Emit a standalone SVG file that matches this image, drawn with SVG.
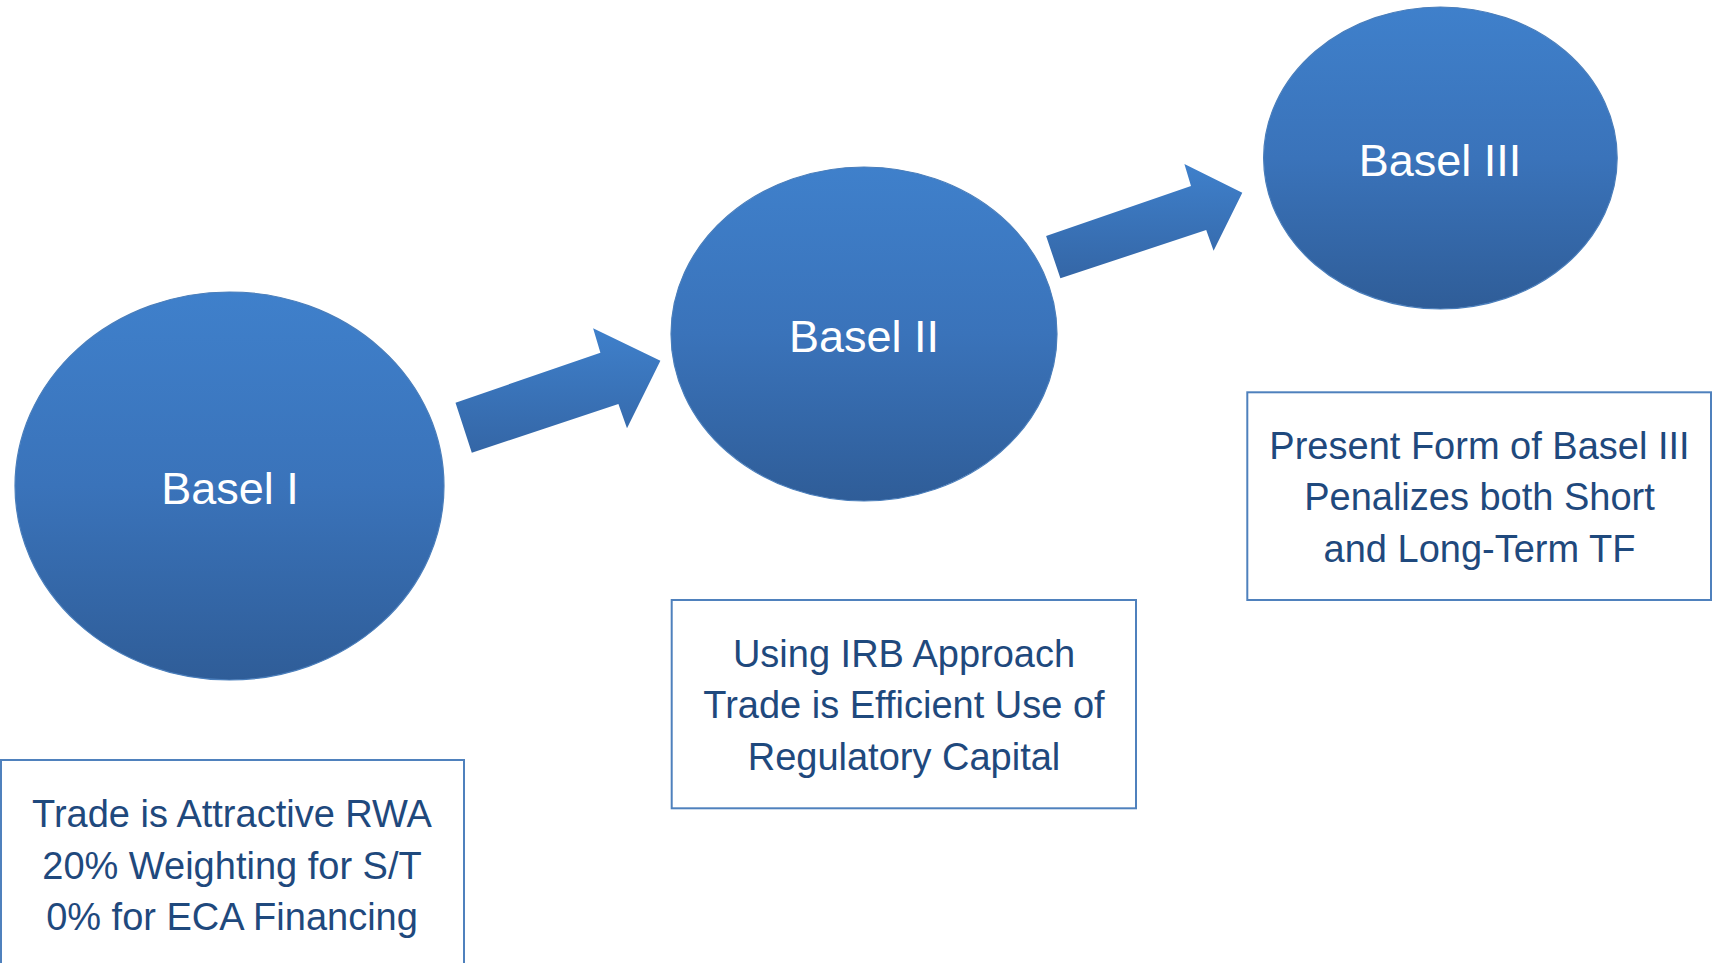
<svg xmlns="http://www.w3.org/2000/svg" width="1712" height="963" viewBox="0 0 1712 963">
<defs>
<linearGradient id="blueGrad" x1="0" y1="0" x2="0" y2="1">
<stop offset="0" stop-color="#3f80cb"/>
<stop offset="0.5" stop-color="#3a73ba"/>
<stop offset="1" stop-color="#2f5d98"/>
</linearGradient>
<linearGradient id="arrowGrad" x1="0" y1="0" x2="0" y2="1">
<stop offset="0" stop-color="#3f80cb"/>
<stop offset="1" stop-color="#3466a6"/>
</linearGradient>
</defs>
<style>
.bubble{fill:url(#blueGrad);stroke:#4a7ebb;stroke-width:1.2}
.arrow{fill:url(#arrowGrad);stroke:none}
.btxt{font-family:"Liberation Sans",Arial,sans-serif;font-size:45px;fill:#ffffff;text-anchor:middle}
.box{fill:#ffffff;stroke:#4f81bd;stroke-width:2}
.ttxt{font-family:"Liberation Sans",Arial,sans-serif;font-size:38px;fill:#1f497d;text-anchor:middle}
</style>
<rect width="1712" height="963" fill="#ffffff"/>
<g id="connectors">
<polygon class="arrow" points="471.8,452.7 455.5,402.7 600.4,352.7 593.1,328.3 660.4,360.7 627,428.3 618.4,404"/>
<polygon class="arrow" points="1060.4,278.3 1046.1,236 1191,186 1184.4,164 1242.3,192.7 1213.6,250.7 1206.2,230"/>
</g>
<g id="basel1">
<ellipse class="bubble" cx="229.5" cy="486" rx="214.5" ry="194"/>
<text class="btxt" x="230" y="504">Basel I</text>
</g>
<g id="basel2">
<ellipse class="bubble" cx="864" cy="334" rx="193" ry="167"/>
<text class="btxt" x="864" y="352">Basel II</text>
</g>
<g id="basel3">
<ellipse class="bubble" cx="1440.4" cy="158" rx="176.8" ry="151"/>
<text class="btxt" x="1440" y="176">Basel III</text>
</g>
<g id="box1">
<rect class="box" x="1" y="760" width="463" height="208"/>
<text class="ttxt" x="232" y="827.3">Trade is Attractive RWA</text>
<text class="ttxt" x="232" y="878.5">20% Weighting for S/T</text>
<text class="ttxt" x="232" y="930">0% for ECA Financing</text>
</g>
<g id="box2">
<rect class="box" x="671.7" y="600" width="464.3" height="208.3"/>
<text class="ttxt" x="904" y="666.7">Using IRB Approach</text>
<text class="ttxt" x="904" y="718.3">Trade is Efficient Use of</text>
<text class="ttxt" x="904" y="770">Regulatory Capital</text>
</g>
<g id="box3">
<rect class="box" x="1247.3" y="392.3" width="463.7" height="207.7"/>
<text class="ttxt" x="1479.5" y="459">Present Form of Basel III</text>
<text class="ttxt" x="1479.5" y="510">Penalizes both Short</text>
<text class="ttxt" x="1479.5" y="561.7">and Long-Term TF</text>
</g>
</svg>
